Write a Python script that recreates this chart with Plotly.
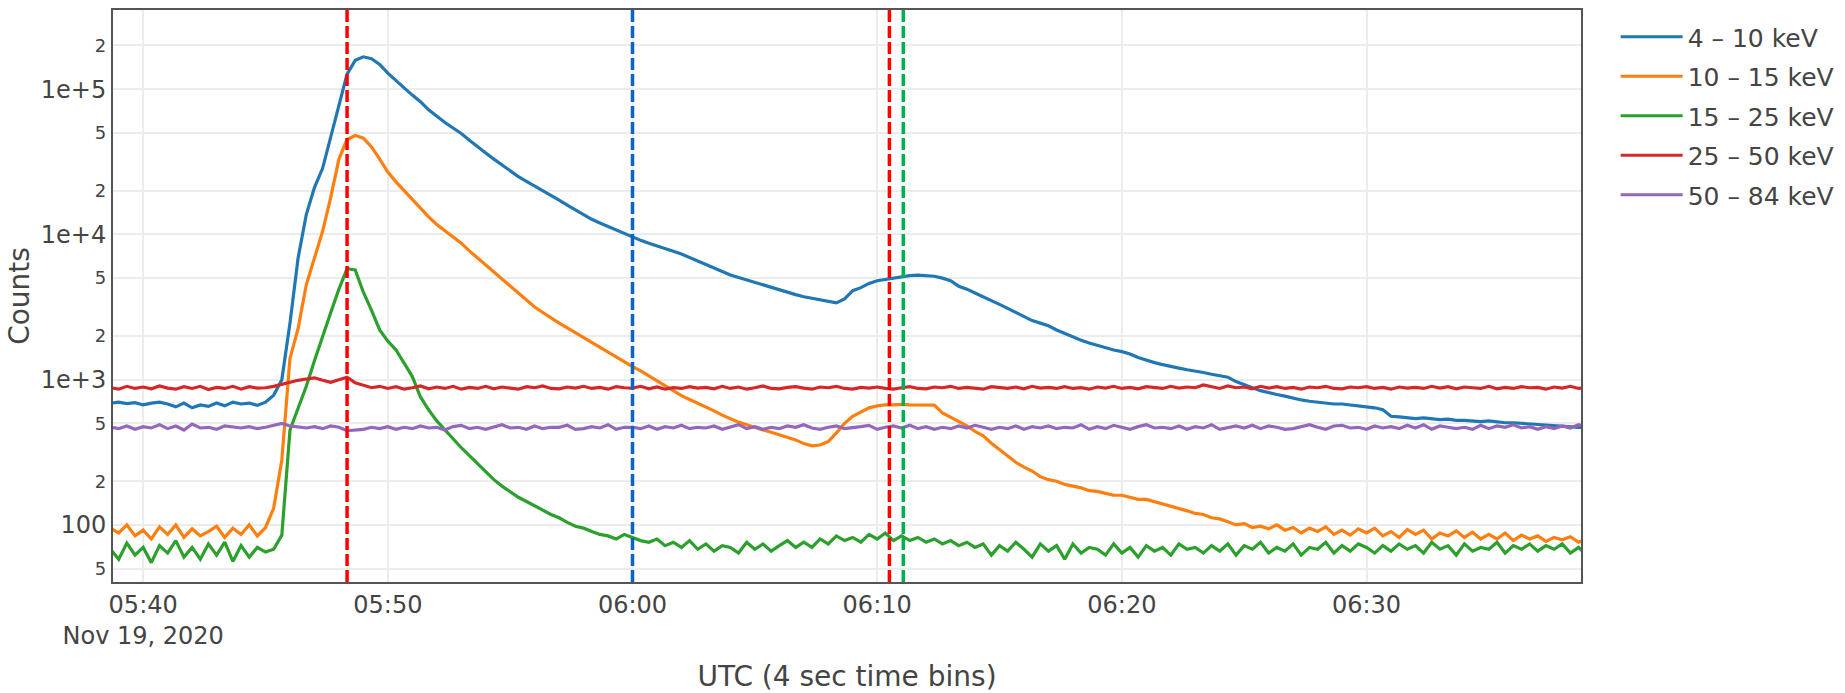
import pandas as pd
import plotly.graph_objects as go

# Light curves in 20 s steps starting 2020-11-19 05:38:40 (counts per bin)
series_start = "2020-11-19 05:38:40"
series_step = "20s"

band_names = ["4 – 10 keV", "10 – 15 keV", "15 – 25 keV", "25 – 50 keV", "50 – 84 keV"]
band_colors = ["#1f77b4", "#ff7f0e", "#2ca02c", "#d62728", "#9467bd"]

counts_4_10 = [
    690, 700, 685, 695,
    670, 690, 700, 680, 650, 690, 640, 670, 655, 690, 660, 700, 680, 690, 665,
    700, 780, 1000, 2450, 6900, 13700, 21000, 28500, 47000, 80000, 127000, 158000,
    167000, 162000, 148000, 129000, 114000, 102000, 91000, 82000, 72000,
    65000, 59000, 54000, 49500, 44500, 40000, 36300, 33000, 30000,
    27200, 25000, 23200, 21600, 20000, 18500, 17200, 15900, 14700,
    13600, 12700, 12000, 11350, 10700, 10100, 9500, 9100, 8700,
    8300, 7950, 7650, 7330, 6950, 6600, 6240, 5900, 5550,
    5250, 5050, 4850, 4680, 4480, 4300, 4120, 3980, 3850,
    3720, 3640, 3560, 3470, 3380, 3600, 4100, 4300, 4600,
    4800, 4900, 5000, 5100, 5200, 5250, 5200, 5150, 5000,
    4800, 4400, 4200, 3950, 3700, 3500, 3300, 3100, 2900,
    2750, 2550, 2450, 2350, 2200, 2080, 1980, 1870, 1790,
    1720, 1650, 1600, 1560, 1500, 1420, 1360, 1310, 1270,
    1230, 1200, 1170, 1150, 1120, 1090, 1060, 1040, 970,
    920, 880, 840, 810, 790, 770, 745, 725, 710,
    700, 690, 680, 680, 670, 660, 650, 640, 620,
    560, 555, 545, 540, 545, 535, 530, 535, 525,
    525, 520, 515, 520, 510, 505, 505, 500, 495,
    495, 490, 485, 480, 475, 470, 470, 465, 470,
]

counts_10_15 = [
    95, 88, 100, 84,
    92, 80, 97, 86, 100, 82, 94, 84, 90, 98, 82, 95, 86, 100, 84,
    96, 130, 280, 1400, 2250, 4500, 7000, 10500, 18000, 33000, 45000, 48000,
    46000, 40000, 33000, 26900, 23000, 20000, 17400, 15000, 13200,
    11700, 10600, 9600, 8700, 7700, 6900, 6200, 5500, 4900,
    4400, 3950, 3550, 3160, 2900, 2650, 2450, 2270, 2100,
    1950, 1810, 1680, 1550, 1440, 1330, 1230, 1150, 1060,
    977, 900, 840, 776, 730, 690, 646, 610, 570,
    537, 510, 490, 468, 450, 435, 417, 400, 385,
    363, 350, 355, 375, 430, 500, 560, 600, 640,
    660, 670, 670, 675, 670, 672, 670, 668, 590,
    550, 520, 480, 440, 410, 365, 330, 300, 270,
    250, 235, 215, 205, 200, 190, 185, 180, 172,
    170, 165, 160, 160, 155, 150, 150, 145, 140,
    135, 130, 125, 120, 118, 112, 110, 105, 100,
    102, 96, 98, 94, 100, 92, 96, 88, 95,
    90, 97, 86, 92, 85, 94, 88, 95, 84,
    90, 82, 93, 86, 92, 80, 88, 84, 91,
    82, 89, 80, 86, 80, 88, 78, 85, 80,
    84, 77, 82, 79, 83, 76, 80, 74, 78,
]

counts_15_25 = [
    68, 58, 75, 62,
    70, 55, 72, 64, 78, 60, 70, 58, 74, 62, 76, 56, 72, 60, 70,
    65, 68, 85, 450, 640, 900, 1350, 2000, 2900, 4200, 5800, 5700,
    4000, 3000, 2200, 1840, 1600, 1300, 1050, 760, 620,
    520, 450, 390, 340, 300, 265, 230, 205, 185,
    170, 155, 145, 135, 125, 118, 112, 104, 98,
    95, 90, 86, 84, 80, 86, 82, 78, 76,
    80, 72, 76, 70, 78, 68, 74, 66, 72,
    70, 64, 76, 68, 74, 66, 72, 78, 70,
    76, 70, 80, 74, 84, 78, 82, 76, 86,
    80, 88, 78, 84, 78, 82, 76, 80, 74,
    78, 72, 76, 70, 74, 62, 72, 66, 76,
    68, 60, 74, 66, 72, 58, 74, 64, 70,
    68, 62, 74, 64, 70, 60, 72, 66, 70,
    62, 74, 68, 70, 64, 72, 66, 74, 62,
    72, 68, 76, 64, 70, 66, 74, 62, 70,
    68, 76, 64, 72, 66, 74, 70, 64, 72,
    66, 74, 68, 72, 64, 76, 68, 72, 62,
    74, 66, 70, 68, 76, 64, 72, 68, 74,
    66, 72, 68, 74, 64, 70, 62, 70, 66,
]

counts_25_50 = [
    880, 860, 900, 870,
    890, 865, 905, 875, 860, 895, 870, 900, 855, 885, 870, 900, 860, 895, 875,
    880, 900, 930, 960, 990, 1010, 1030, 990, 960, 1000, 1040, 950,
    915, 880, 900, 870, 895, 860, 880, 905, 865,
    890, 870, 900, 860, 885, 870, 900, 865, 890,
    875, 860, 895, 880, 905, 870, 865, 890, 875,
    900, 870, 885, 860, 895, 880, 875, 900, 865,
    890, 860, 880, 870, 895, 875, 885, 865, 900,
    870, 890, 860, 880, 905, 870, 865, 885, 895,
    875, 860, 890, 880, 900, 870, 860, 885, 875,
    890, 870, 860, 880, 895, 870, 865, 890, 880,
    900, 870, 885, 875, 860, 895, 880, 870, 890,
    865, 900, 875, 885, 870, 895, 870, 880, 860,
    890, 875, 900, 870, 885, 865, 895, 880, 870,
    900, 875, 890, 880, 920, 895, 870, 905, 880,
    890, 865, 900, 875, 895, 870, 885, 860, 890,
    880, 900, 870, 865, 890, 880, 895, 870, 885,
    860, 890, 875, 885, 870, 900, 875, 895, 865,
    890, 880, 870, 900, 865, 885, 870, 895, 880,
    885, 860, 890, 875, 900, 870, 890, 880, 895,
]

counts_50_84 = [
    470, 460, 480, 455,
    475, 465, 490, 460, 480, 450, 495, 465, 470, 455, 480, 470, 465, 475, 460,
    470, 485, 500, 480, 470, 465, 475, 460, 480, 470, 445, 450,
    455, 470, 460, 475, 455, 470, 460, 480, 465,
    470, 450, 475, 485, 460, 470, 455, 475, 490,
    465, 470, 455, 480, 460, 470, 470, 485, 455,
    460, 475, 465, 490, 455, 470, 470, 460, 480,
    455, 475, 465, 485, 460, 470, 465, 480, 455,
    470, 490, 460, 475, 455, 470, 460, 480, 470,
    490, 465, 455, 470, 480, 460, 465, 475, 485,
    455, 470, 480, 465, 485, 460, 475, 455, 470,
    460, 480, 465, 485, 470, 455, 470, 460, 480,
    455, 475, 465, 480, 460, 470, 465, 490, 455,
    475, 460, 485, 470, 455, 475, 490, 465, 470,
    460, 480, 455, 475, 465, 490, 455, 470, 480,
    465, 485, 460, 480, 470, 455, 460, 475, 490,
    470, 455, 480, 485, 465, 470, 455, 480, 465,
    475, 460, 485, 465, 490, 455, 480, 470, 460,
    470, 455, 485, 460, 480, 470, 490, 465, 475,
    455, 475, 460, 480, 465, 490, 470, 460, 485,
]

# Event markers: time, colour
marker_times = ["2020-11-19 05:48:20", "2020-11-19 06:00:00",
                "2020-11-19 06:10:30", "2020-11-19 06:11:04"]
marker_colors = ["#ff0000", "#0a64c8", "#ff0000", "#00b050"]

x_range = ["2020-11-19 05:38:46", "2020-11-19 06:38:46"]

all_counts = [counts_4_10, counts_10_15, counts_15_25, counts_25_50, counts_50_84]

fig = go.Figure()
for name, color, counts in zip(band_names, band_colors, all_counts):
    times = pd.date_range(series_start, periods=len(counts), freq=series_step)
    fig.add_trace(go.Scatter(
        x=times, y=counts, mode="lines", name=name, legendgroup=name,
        line=dict(color=color, width=3.2),
    ))

for t, c in zip(marker_times, marker_colors):
    fig.add_shape(type="line", xref="x", yref="paper", x0=t, x1=t, y0=0, y1=1,
                  line=dict(color=c, width=3.5, dash="12px,4px"))

font_family = "DejaVu Sans, Verdana, sans-serif"
fig.update_layout(
    width=1845, height=693,
    margin=dict(l=113, r=264, t=10, b=111, autoexpand=False),
    paper_bgcolor="white", plot_bgcolor="white",
    font=dict(family=font_family, size=24, color="#444"),
    legend=dict(x=1.0236, y=0.993, yanchor="top", font=dict(size=25),
                tracegroupgap=4, itemwidth=62),
    xaxis=dict(
        type="date", range=x_range,
        showgrid=True, gridcolor="#ececec", gridwidth=2,
        showline=True, linecolor="#555", linewidth=2, mirror=True,
        ticks="", zeroline=False,
        title=dict(text="UTC (4 sec time bins)", font=dict(size=28), standoff=21),
    ),
    yaxis=dict(
        type="log", range=[1.607, 5.545], dtick="D2", exponentformat="e",
        showgrid=True, gridcolor="#ececec", gridwidth=2,
        showline=True, linecolor="#555", linewidth=2, mirror=True,
        ticks="", zeroline=False,
        title=dict(text="Counts", font=dict(size=28), standoff=3),
    ),
)

fig.write_html("out.html")
